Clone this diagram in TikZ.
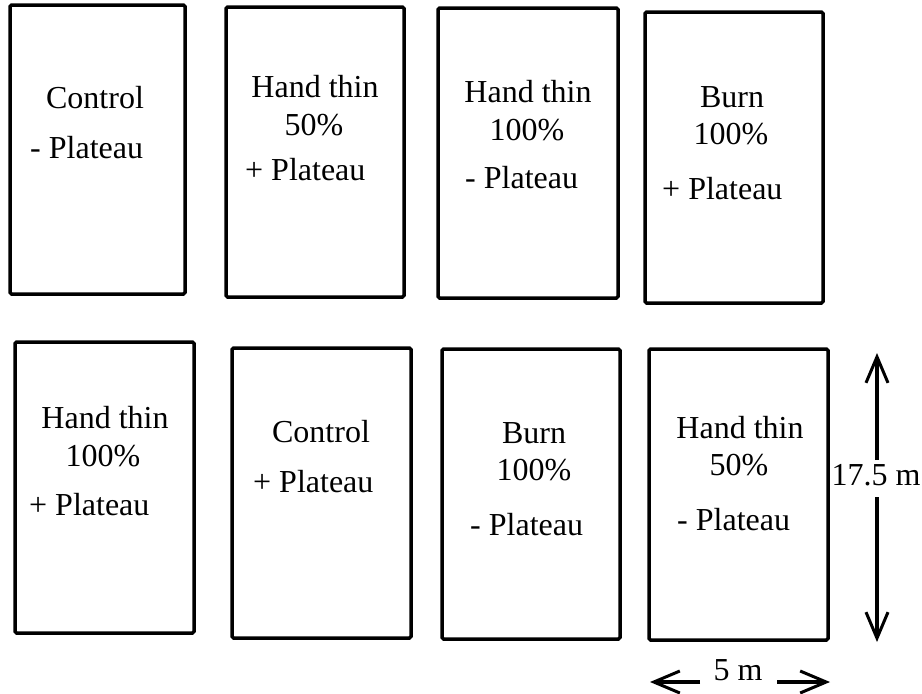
\documentclass[tikz,border=0pt]{standalone}
\usepackage{fontspec}
\setmainfont{Liberation Serif}
\usetikzlibrary{arrows.meta}

\begin{document}
\begin{tikzpicture}[x=1pt,y=-1pt,
  plotbox/.style={line width=3.5pt, rounded corners=1.5pt},
  lbl/.style={font=\fontsize{32}{38}\selectfont, inner sep=0pt, anchor=base},
  lblw/.style={lbl, anchor=base west},
  dim/.style={line width=3.5pt, -{Straight Barb[length=26pt,width=22pt,line width=3pt]}}]
\useasboundingbox (0,0) rectangle (922,694);
% Plots: top row, then bottom row
\foreach \xa/\ya/\xb/\yb in {10/5/185/294, 226/7/404/297, 438/8/618/298, 645/12/823/303,
  15/342/194/633, 232/348/411/638, 442/349/620/639, 649/349/828/640}
  \draw[plotbox] (\xa,\ya) rectangle (\xb,\yb);
% Top row labels
\node[lbl] (c1) at (95,108) {Control};
\node[lblw] (p1) at (30,158) {- Plateau};
\node[lbl] (h2) at (315,97) {Hand thin};
\node[lbl] (n2) at (314,135) {50\%};
\node[lblw] (p2) at (245,180) {+ Plateau};
\node[lbl] (h3) at (528,102) {Hand thin};
\node[lbl] (n3) at (527,140) {100\%};
\node[lblw] (p3) at (465,188) {- Plateau};
\node[lbl] (b4) at (732,107) {Burn};
\node[lbl] (n4) at (731,144) {100\%};
\node[lblw] (p4) at (662,199) {+ Plateau};
% Bottom row labels
\node[lbl] (h5) at (105,428) {Hand thin};
\node[lbl] (n5) at (103,466) {100\%};
\node[lblw] (p5) at (29,515) {+ Plateau};
\node[lbl] (c6) at (321,442) {Control};
\node[lblw] (p6) at (253,492) {+ Plateau};
\node[lbl] (b7) at (534,443) {Burn};
\node[lbl] (n7) at (534,480) {100\%};
\node[lblw] (p7) at (470,535) {- Plateau};
\node[lbl] (h8) at (740,438) {Hand thin};
\node[lbl] (n8) at (739,475) {50\%};
\node[lblw] (p8) at (677,530) {- Plateau};
% Plot length
\node[lbl] (len) at (876,485) {17.5 m};
\coordinate (lenup) at (877,460);
\coordinate (lentop) at (877,353);
\coordinate (lendn) at (877,497);
\coordinate (lenbot) at (877,642);
\draw[dim] (lenup) -- (lentop);
\draw[dim] (lendn) -- (lenbot);
% Plot width
\node[lbl] (wid) at (738,680) {5 m};
\coordinate (widl) at (700,682);
\coordinate (widlt) at (650,682);
\coordinate (widr) at (777,682);
\coordinate (widrt) at (830,682);
\draw[dim] (widl) -- (widlt);
\draw[dim] (widr) -- (widrt);
\end{tikzpicture}
\end{document}
